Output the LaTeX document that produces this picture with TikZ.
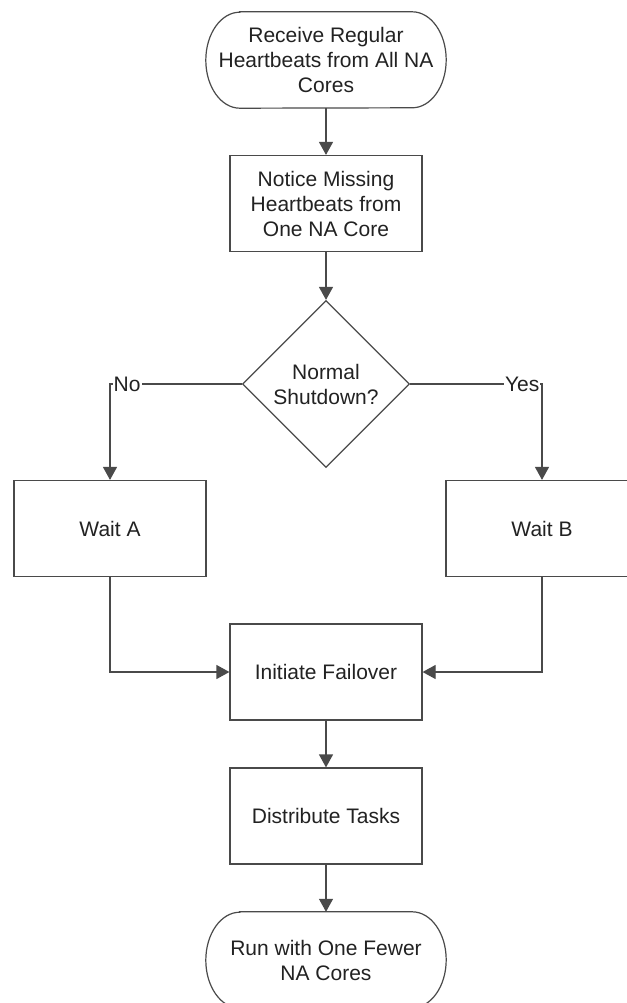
\documentclass[tikz,border=0pt]{standalone}
\usepackage{fontspec}
\setmainfont{Liberation Sans}
\usetikzlibrary{arrows.meta,shapes.geometric}
\definecolor{linec}{HTML}{4A4A4A}
\definecolor{textc}{HTML}{222222}
\newcommand\capsulepath[1]{%
  \draw[shapeline] ([xshift=34pt]#1.north west) -- ([xshift=-34pt]#1.north east)
    arc[start angle=90,end angle=-90,x radius=34pt,y radius=48pt]
    -- ([xshift=34pt]#1.south west)
    arc[start angle=270,end angle=90,x radius=34pt,y radius=48pt] -- cycle;}
\begin{document}
\begin{tikzpicture}[x=1pt,y=-1pt,
  every node/.style={text=textc,font=\fontsize{21}{25}\selectfont,align=center},
  shapeline/.style={draw=linec,line width=1.2pt},
  term/.style={minimum width=240pt,minimum height=96pt,inner sep=0pt},
  proc/.style={shapeline,rectangle,minimum width=192pt,minimum height=96pt,inner sep=0pt},
  decis/.style={shapeline,diamond,minimum width=167pt,minimum height=167pt,inner sep=0pt},
  conn/.style={draw=linec,line width=1.2pt,-{Triangle[length=13pt,width=14pt]}},
  lbl/.style={fill=white,inner sep=1pt}]
\useasboundingbox (0,0) rectangle (626,1003);
\fill[white] (0,0) rectangle (626,1003);
\node[term] (t1) at (326,60) {Receive Regular\\Heartbeats from All NA\\Cores};
\capsulepath{t1}
\node[proc] (b2) at (326,203.5) {Notice Missing\\Heartbeats from\\One NA Core};
\node[decis] (dia) at (326,384) {Normal\\Shutdown?};
\node[proc] (wa) at (110,528.5) {Wait A};
\node[proc] (wb) at (542,528.5) {Wait B};
\node[proc] (fo) at (326,672) {Initiate Failover};
\node[proc] (dt) at (326,816) {Distribute Tasks};
\node[term] (t2) at (326,960) {Run with One Fewer\\NA Cores};
\capsulepath{t2}
\draw[conn] (t1) -- (b2);
\draw[conn] (b2) -- (dia);
\draw[conn] (dia.west) -| node[lbl,pos=0.435]{No} (wa.north);
\draw[conn] (dia.east) -| node[lbl,pos=0.425]{Yes} (wb.north);
\draw[conn] (wa.south) |- (fo.west);
\draw[conn] (wb.south) |- (fo.east);
\draw[conn] (fo) -- (dt);
\draw[conn] (dt) -- (t2);
\end{tikzpicture}
\end{document}
